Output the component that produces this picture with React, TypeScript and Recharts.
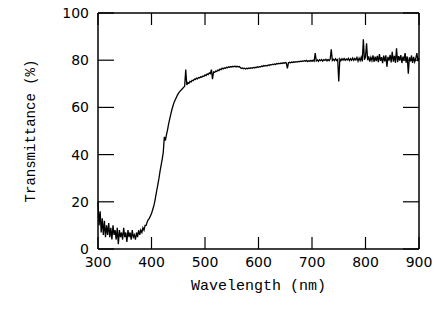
import { LineChart, Line, XAxis, YAxis, Label } from "recharts";

// spectrometer samples every 2 nm starting at 300 nm
const startNm = 300;
const stepNm = 2;

// 300–398 nm, noisy floor below the absorption edge
const uvBand = [
  20, 10, 16, 7, 13, 6, 12, 5, 10, 6,
  11, 5, 9, 4, 10, 6, 8, 4, 9, 2,
  8, 5, 7, 4, 9, 5, 7, 3, 8, 5,
  7, 4, 8, 5, 6, 4, 7, 5, 8, 6,
  8, 7, 9, 8, 10, 10, 11.5, 12.5, 13, 14,
];

// 400–478 nm, the steep rise
const absorptionEdge = [
  15, 16.5, 18, 20, 22.5, 25, 27.5, 30, 33, 35.5,
  38, 41, 47.5, 46, 48.5, 50.5, 53, 55, 57, 59,
  60.5, 62, 63, 64, 65, 65.8, 66.5, 67, 67.5, 68,
  68.5, 69, 76, 69.5, 70.5, 70.2, 71, 70.8, 71.5, 71.3,
];

// 480–698 nm
const visibleBand = [
  72, 71.8, 72.4, 72.1, 72.7, 72.5, 73, 72.8, 73.3, 73.1,
  73.8, 73.5, 74.2, 73.9, 74.6, 74.3, 76, 72, 75, 74.8,
  75.4, 75.2, 75.8, 75.6, 76.2, 76, 76.6, 76.3, 76.8, 76.5,
  77, 76.8, 77.2, 77, 77.3, 77.1, 77.4, 77.2, 77.5, 77.1,
  77.4, 77.2, 77.3, 76.9, 76.5, 76.7, 76.4, 76.6, 76.3, 76.6,
  76.4, 76.7, 76.5, 76.8, 76.6, 76.9, 76.7, 77, 76.9, 77.2,
  77, 77.3, 77.2, 77.5, 77.3, 77.7, 77.5, 77.8, 77.6, 78,
  77.8, 78.1, 78, 78.3, 78.1, 78.4, 78.2, 78.6, 78.4, 78.7,
  78.5, 78.8, 78.6, 78.9, 78.7, 79, 78.8, 76.5, 78.9, 79.1,
  78.9, 79.2, 79, 79.3, 79.1, 79.4, 79.2, 79.5, 79.3, 79.6,
  79.4, 79.7, 79.5, 79.8, 79.6, 79.9, 79.4, 79.8, 79.6, 79.9,
];

// 700–900 nm, noisier with detector spikes
const nearInfrared = [
  79.5, 80, 79.6, 83, 79.7, 80.1, 79.5, 80.2, 79.8, 80.3,
  79.6, 80.2, 79.9, 80.4, 79.7, 80.3, 79.8, 80.5, 84.6, 79.9,
  80.4, 79.8, 80.6, 79.9, 80.3, 71, 80.5, 79.8, 80.6, 80,
  80.7, 79.9, 80.5, 80.1, 80.8, 79.8, 80.6, 80, 80.9, 79.9,
  80.7, 80.1, 81.2, 79.6, 80.9, 79.8, 81.3, 79.5, 88.9, 80.2,
  81.4, 87.2, 80, 81.6, 79.4, 81.2, 79.8, 82, 79.3, 81.5,
  79.6, 81.8, 79.2, 82.6, 79.7, 81.3, 78.8, 81.9, 79.5, 82.1,
  77.2, 81.4, 79.8, 82.3, 79.1, 83.6, 79.4, 81.8, 78.9, 85,
  79.2, 81.7, 79.8, 82.2, 78.8, 81.5, 80.1, 83, 79, 81.6,
  74.3, 81.2, 79.5, 82, 78.9, 81.4, 79.3, 80.8, 83, 79.6,
  81,
];

const xTicks = [300, 400, 500, 600, 700, 800, 900];
const yTicks = [0, 20, 40, 60, 80, 100];

const transmittance = [...uvBand, ...absorptionEdge, ...visibleBand, ...nearInfrared];
const data = transmittance.map((t, i) => ({ nm: startNm + i * stepNm, t }));

const tickFont = { fontFamily: "DejaVu Sans", fontSize: 14, fill: "#000" };
const titleFont = { fontFamily: "Liberation Mono", fill: "#000" };
const frame = { stroke: "#000", strokeWidth: 1.5 };
const ink = "#000";

// ticks point into the plot, like the original plotting package draws them
const BottomTick = ({ x, y, payload }: any) => (
  <g>
    <line x1={x} x2={x} y1={y} y2={y - 12} stroke={ink} strokeWidth={1.2} />
    <text x={x} y={y + 18} textAnchor="middle" {...tickFont}>{payload.value}</text>
  </g>
);
const TopTick = ({ x, y }: any) => (
  <line x1={x} x2={x} y1={y} y2={y + 12} stroke={ink} strokeWidth={1.2} />
);
const LeftTick = ({ x, y, payload }: any) => (
  <g>
    <line x1={x} x2={x + 16} y1={y} y2={y} stroke={ink} strokeWidth={1.2} />
    <text x={x - 9} y={y + 5} textAnchor="end" {...tickFont}>{payload.value}</text>
  </g>
);
const RightTick = ({ x, y }: any) => (
  <line x1={x} x2={x - 16} y1={y} y2={y} stroke={ink} strokeWidth={1.2} />
);

export default function App() {
  return (
    <div style={{ position: "absolute", left: 0, top: 0, background: "#fff" }}>
      <LineChart width={436} height={309} data={data} margin={{ top: 12, right: 16, bottom: 0, left: 0 }}>
        <XAxis
          xAxisId="top"
          orientation="top"
          type="number"
          dataKey="nm"
          domain={[300, 900]}
          allowDataOverflow
          ticks={xTicks}
          height={1}
          tickSize={0}
          tickMargin={0}
          tick={<TopTick />}
          tickLine={false}
          axisLine={frame}
        />
        <XAxis
          type="number"
          dataKey="nm"
          domain={[300, 900]}
          ticks={xTicks}
          height={60}
          tickSize={0}
          tickMargin={0}
          tick={<BottomTick />}
          tickLine={false}
          axisLine={frame}
        >
          <Label value="Wavelength (nm)" position="insideBottom" offset={19} style={{ ...titleFont, fontSize: 15 }} />
        </XAxis>
        <YAxis
          type="number"
          domain={[0, 100]}
          ticks={yTicks}
          width={98}
          tickSize={0}
          tickMargin={0}
          tick={<LeftTick />}
          tickLine={false}
          axisLine={frame}
        >
          <Label
            value="Transmittance (%)"
            angle={-90}
            position="insideLeft"
            offset={30}
            style={{ ...titleFont, fontSize: 14, textAnchor: "middle" }}
          />
        </YAxis>
        <YAxis
          yAxisId="right"
          orientation="right"
          type="number"
          domain={[0, 100]}
          allowDataOverflow
          ticks={yTicks}
          width={1}
          tickSize={0}
          tickMargin={0}
          tick={<RightTick />}
          tickLine={false}
          axisLine={frame}
        />
        <Line
          type="linear"
          dataKey="t"
          stroke={ink}
          strokeWidth={1.3}
          dot={false}
          isAnimationActive={false}
        />
      </LineChart>
    </div>
  );
}
